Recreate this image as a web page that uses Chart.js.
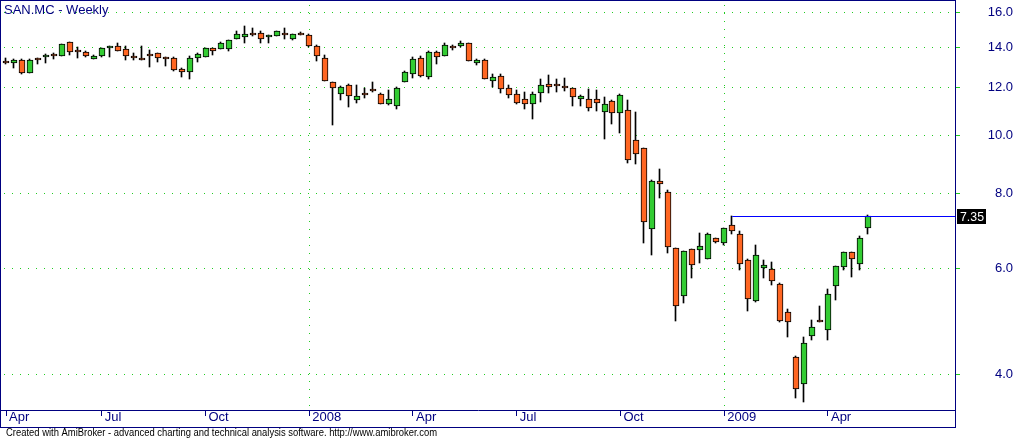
<!DOCTYPE html>
<html>
<head>
<meta charset="utf-8">
<title>SAN.MC - Weekly</title>
<script src="https://cdn.jsdelivr.net/npm/chart.js@4.4.0/dist/chart.umd.min.js"></script>
<style>
  html, body { margin:0; padding:0; background:#fff; overflow:hidden; }
  #wrap { position:relative; width:1016px; height:439px; }
</style>
</head>
<body>
<div id="wrap"><canvas id="chart" width="1016" height="439"></canvas></div>
<script>
// weekly bars, SAN.MC, week of 9 Apr 2007 .. week of 11 May 2009
const opens  = [13.30,13.21,13.36,12.67,13.45,13.47,13.67,13.56,14.27,13.88,
                13.78,13.39,13.54,13.94,14.07,13.89,13.57,13.42,13.65,13.69,
                13.48,13.42,12.88,12.72,13.42,13.50,13.94,13.91,13.92,14.47,
                14.54,14.77,14.82,14.54,14.65,14.82,14.43,14.81,14.67,14.05,
                13.42,12.25,11.73,12.14,11.46,11.75,11.92,11.73,11.29,11.19,
                12.26,12.62,13.42,12.50,13.78,13.54,14.10,14.05,14.21,13.21,
                13.36,12.33,12.57,11.96,11.73,11.47,11.27,11.76,12.19,12.15,
                12.09,11.96,11.50,11.50,11.50,10.94,11.42,10.90,11.03,9.81,
                9.53,6.97,8.38,8.05,6.49,5.40,6.46,6.45,6.23,6.74,
                6.62,7.08,6.86,6.21,5.30,6.01,6.00,5.66,5.09,4.28,
                3.86,4.63,4.93,4.75,5.62,6.04,6.39,6.11,7.00];
const highs  = [13.42,13.38,13.38,13.38,13.46,13.67,13.68,14.19,14.28,14.00,
                13.83,13.62,13.95,14.06,14.21,14.07,13.71,14.07,13.85,13.70,
                13.48,13.51,12.94,13.53,13.71,13.96,13.95,14.28,14.40,14.88,
                15.18,15.05,14.91,14.68,14.89,15.06,14.72,14.84,14.71,14.12,
                13.58,12.26,12.06,12.15,12.11,11.99,12.25,11.74,11.88,12.01,
                12.78,13.49,13.53,13.79,13.79,14.21,14.11,14.37,14.22,13.37,
                13.37,12.63,12.63,12.14,11.88,11.78,11.80,12.42,12.58,12.42,
                12.47,12.00,11.68,11.93,11.91,11.56,11.43,11.69,11.46,10.93,
                9.54,8.41,8.80,8.12,6.50,6.43,6.47,6.87,6.87,6.75,
                7.01,7.35,6.93,6.22,6.56,6.19,6.15,5.67,5.15,4.30,
                4.62,4.92,5.19,5.56,6.07,6.40,6.40,6.79,7.38];
const lows   = [13.16,12.94,12.65,12.67,13.16,13.19,13.39,13.56,13.62,13.46,
                13.49,13.38,13.51,13.49,13.80,13.36,13.36,13.32,12.99,13.24,
                13.04,12.78,12.50,12.40,13.23,13.48,13.58,13.90,13.80,14.46,
                14.21,14.61,14.21,14.21,14.64,14.43,14.39,14.70,14.00,13.29,
                12.32,10.40,11.43,11.15,11.32,11.53,11.82,11.25,11.21,11.06,
                12.25,12.45,12.50,12.40,13.14,13.53,13.86,14.00,13.28,13.10,
                12.39,12.03,11.76,11.55,11.29,11.06,10.64,11.36,11.76,11.80,
                11.85,11.18,11.19,10.97,10.97,9.84,10.45,10.08,9.00,8.97,
                6.62,6.33,7.86,6.37,4.91,5.25,5.79,6.13,6.22,6.63,
                6.56,6.85,5.96,5.10,5.29,5.79,5.63,4.90,4.61,3.66,
                3.60,4.57,4.89,4.57,5.32,5.97,5.80,5.96,6.86];
const closes = [13.20,13.33,12.70,13.36,13.36,13.62,13.56,14.18,13.76,13.78,
                13.56,13.56,13.94,14.05,13.83,13.56,13.47,13.33,13.55,13.42,
                13.39,12.83,12.76,13.42,13.64,13.95,13.82,14.23,14.39,14.72,
                14.76,14.66,14.48,14.67,14.88,14.71,14.71,14.71,14.10,13.56,
                12.33,11.96,12.05,11.64,11.64,11.66,11.83,11.27,11.50,12.00,
                12.73,13.38,12.53,13.78,13.49,14.12,13.97,14.21,13.29,13.36,
                12.40,12.52,11.94,11.68,11.33,11.25,11.73,12.14,12.05,12.06,
                11.96,11.59,11.64,11.12,11.33,11.25,10.90,11.68,9.08,9.29,
                7.16,8.38,8.31,6.53,5.20,6.42,6.09,6.55,6.86,6.65,
                7.00,6.93,6.11,5.34,6.33,6.09,5.73,4.91,4.89,3.78,
                4.52,4.80,4.89,5.44,6.06,6.39,6.22,6.74,7.35];

const xTickIdx    = [0, 12, 25, 38, 51, 64, 77, 90, 103];
const xTickLabels = ['Apr', 'Jul', 'Oct', '2008', 'Apr', 'Jul', 'Oct', '2009', 'Apr'];
const yearTicks   = [38, 90];
const yTicks      = [4, 6, 8, 10, 12, 14, 16];

const trendFrom  = 91;     // horizontal line from the early January 2009 high
const trendLevel = 7.35;
const lastPrice  = 7.35;

const titleText  = 'SAN.MC - Weekly';
const footerText = 'Created with AmiBroker - advanced charting and technical analysis software. http://www.amibroker.com';

const NAVY = '#000080', GRID = '#22cc22', UP = '#33cc33', DOWN = '#ff6622';
const xMin = -0.627, xMax = 118.92;
const yMin = 3.4917, yMax = 16.72;

const bodies = opens.map((o, i) => ({x: i, y: [o, closes[i]]}));
const wicks  = opens.map((o, i) => ({x: i, y: [lows[i], highs[i]]}));
const bodyColors = opens.map((o, i) => closes[i] >= o ? UP : DOWN);

// snap candles to whole pixels so borders and wicks stay crisp
const snapPlugin = {
  id: 'snap',
  beforeDatasetsDraw(chart){
    const lineMeta = chart.getDatasetMeta(0);
    const bodyMeta = chart.getDatasetMeta(1);
    const wickMeta = chart.getDatasetMeta(2);
    bodyMeta.data.forEach((el, i) => {
      const cx = Math.round(el.x);
      let top = Math.round(Math.min(el.y, el.base));
      let bot = Math.round(Math.max(el.y, el.base));
      if (bot - top < 2) bot = top + 2;
      el.x = cx; el.y = top; el.base = bot;
      const w = wickMeta.data[i];
      const wt = Math.round(Math.min(w.y, w.base)), wb = Math.round(Math.max(w.y, w.base));
      w.x = cx - 0.5; w.y = wt; w.base = wb;
    });
    lineMeta.data.forEach(p => { p.y = Math.round(p.y) + 0.5; });
  }
};

const framePlugin = {
  id: 'frame',
  afterDraw(chart){
    const {ctx, chartArea: a, scales: {x, y}} = chart;
    ctx.save();
    ctx.strokeStyle = NAVY; ctx.lineWidth = 1;
    ctx.beginPath();
    ctx.moveTo(0, 0.5); ctx.lineTo(a.right + 1, 0.5);
    ctx.moveTo(0.5, 0); ctx.lineTo(0.5, x.bottom + 1);
    ctx.moveTo(0, x.bottom + 0.5); ctx.lineTo(a.right + 1, x.bottom + 0.5);
    ctx.moveTo(a.right + 0.5, 0); ctx.lineTo(a.right + 0.5, x.bottom + 1);
    ctx.stroke();

    ctx.fillStyle = NAVY; ctx.font = '13px Arial'; ctx.textBaseline = 'alphabetic';
    ctx.fillText(titleText, 4, 13.5, 106);

    ctx.fillStyle = '#000'; ctx.font = '10px Arial';
    ctx.fillText(footerText, 6, 436, 431);

    const py = Math.round(y.getPixelForValue(lastPrice));
    ctx.fillStyle = '#000';
    ctx.fillRect(a.right + 2, py - 7, 29, 15);
    ctx.fillStyle = '#fff'; ctx.font = '13px Arial'; ctx.textBaseline = 'middle';
    ctx.fillText(lastPrice.toFixed(2), a.right + 5, py + 1, 24);
    ctx.restore();
  }
};

new Chart(document.getElementById('chart'), {
  type: 'bar',
  data: {
    datasets: [
      {type:'line', data:[{x:trendFrom, y:trendLevel}, {x:xMax, y:trendLevel}],
       borderColor:'#0000ff', borderWidth:1, pointRadius:0, order:-1},
      {data: bodies, backgroundColor: bodyColors, borderColor:'#000', borderWidth:1,
       borderSkipped:false, barThickness:6, grouped:false, order:0},
      {data: wicks, backgroundColor:'#000', borderWidth:0, barThickness:1, grouped:false, order:1}
    ]
  },
  options: {
    responsive:false, animation:false, devicePixelRatio:1,
    layout: {padding:{left:1, top:1, right:3, bottom:12}},
    plugins: {legend:{display:false}, tooltip:{enabled:false}, title:{display:false}},
    scales: {
      x: {
        type:'linear', min:xMin, max:xMax, offset:false,
        afterBuildTicks: s => { s.ticks = xTickIdx.map(v => ({value:v})); },
        afterFit: s => { s.height = 17; s.paddingLeft = 0; s.paddingRight = 0; },
        ticks: {autoSkip:false, maxRotation:0, align:'start', labelOffset:3, padding:-6,
                color:NAVY, font:{family:'Arial', size:13},
                callback: (v, i) => xTickLabels[i]},
        grid: {offset:false, lineWidth:1, tickLength:6, tickColor:NAVY,
               color: c => (c.tick && yearTicks.includes(c.tick.value)) ? GRID : 'rgba(0,0,0,0)'},
        border: {color:NAVY, width:1, dash:[1,7], dashOffset:4}
      },
      y: {
        type:'logarithmic', position:'right', min:yMin, max:yMax,
        afterBuildTicks: s => { s.ticks = yTicks.map(v => ({value:v})); },
        afterFit: s => { s.width = 58; s.paddingTop = 0; s.paddingBottom = 0; },
        ticks: {crossAlign:'far', padding:3, color:NAVY, font:{family:'Arial', size:13},
                callback: v => Number(v).toFixed(1)},
        grid: {color:GRID, tickColor:GRID, tickLength:5, lineWidth:1},
        border: {color:NAVY, width:1, dash:[1,7], dashOffset:5}
      }
    }
  },
  plugins: [snapPlugin, framePlugin]
});
</script>
</body>
</html>
